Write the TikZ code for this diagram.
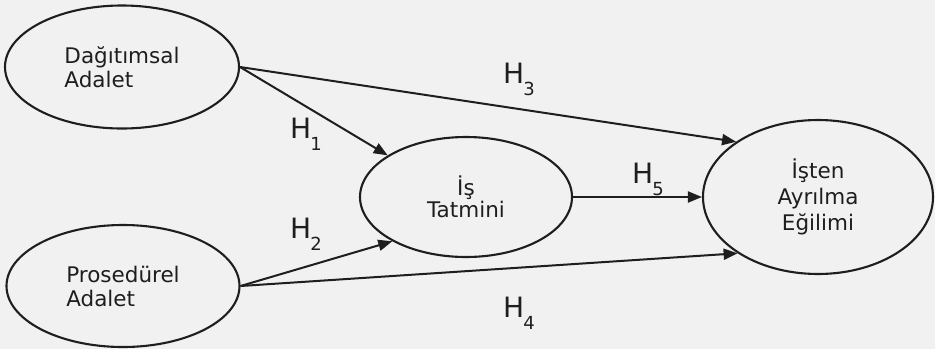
\documentclass[tikz,border=0pt]{standalone}
\usepackage{fontspec}
\setmainfont{DejaVu Sans}
\usetikzlibrary{shapes.geometric,arrows.meta}
\definecolor{bg}{HTML}{F1F1F1}
\definecolor{ink}{HTML}{1E1E1E}
\newcommand\hyp[1]{H\kern-1pt\raisebox{-12pt}{\fontsize{18}{18}\selectfont #1}}
\begin{document}
\begin{tikzpicture}[x=1pt,y=-1pt,
  lat/.style={ellipse,draw=ink,line width=2.1pt,inner sep=0pt,text=ink},
  relpath/.style={draw=ink,line width=2pt,-{Triangle[length=14pt,width=11pt]}},
  hlab/.style={anchor=base west,inner sep=0pt,text=ink,font=\fontsize{28}{28}\selectfont}]
\fill[bg] (0,0) rectangle (935,349);
\useasboundingbox (0,0) rectangle (935,349);
\node[lat,minimum width=234pt,minimum height=123pt,align=left,font=\fontsize{21.5}{24}\selectfont] (d) at (122,67) {Dağıtımsal\\Adalet};
\node[lat,minimum width=233pt,minimum height=122pt,align=left,font=\fontsize{21.5}{24}\selectfont] (p) at (123,286) {Prosedürel\\Adalet};
\node[lat,minimum width=212pt,minimum height=120pt,align=center,font=\fontsize{21.5}{22}\selectfont] (t) at (466,197) {İş\\Tatmini};
\node[lat,minimum width=230pt,minimum height=154pt,align=center,font=\fontsize{21.5}{26}\selectfont] (a) at (818,197) {İşten\\Ayrılma\\Eğilimi};
\draw[relpath] (d.east) -- (t.152);
\draw[relpath] (d.east) -- (a.146);
\draw[relpath] (p.east) -- (t.211);
\draw[relpath] (p.east) -- (a.215);
\draw[relpath] (t.east) -- (a.west);
\node[hlab] (h1) at (290,138) {\hyp{1}};
\node[hlab] (h2) at (290,238) {\hyp{2}};
\node[hlab] (h3) at (503,83) {\hyp{3}};
\node[hlab] (h4) at (503,317) {\hyp{4}};
\node[hlab] (h5) at (632,183) {\hyp{5}};
\end{tikzpicture}
\end{document}
